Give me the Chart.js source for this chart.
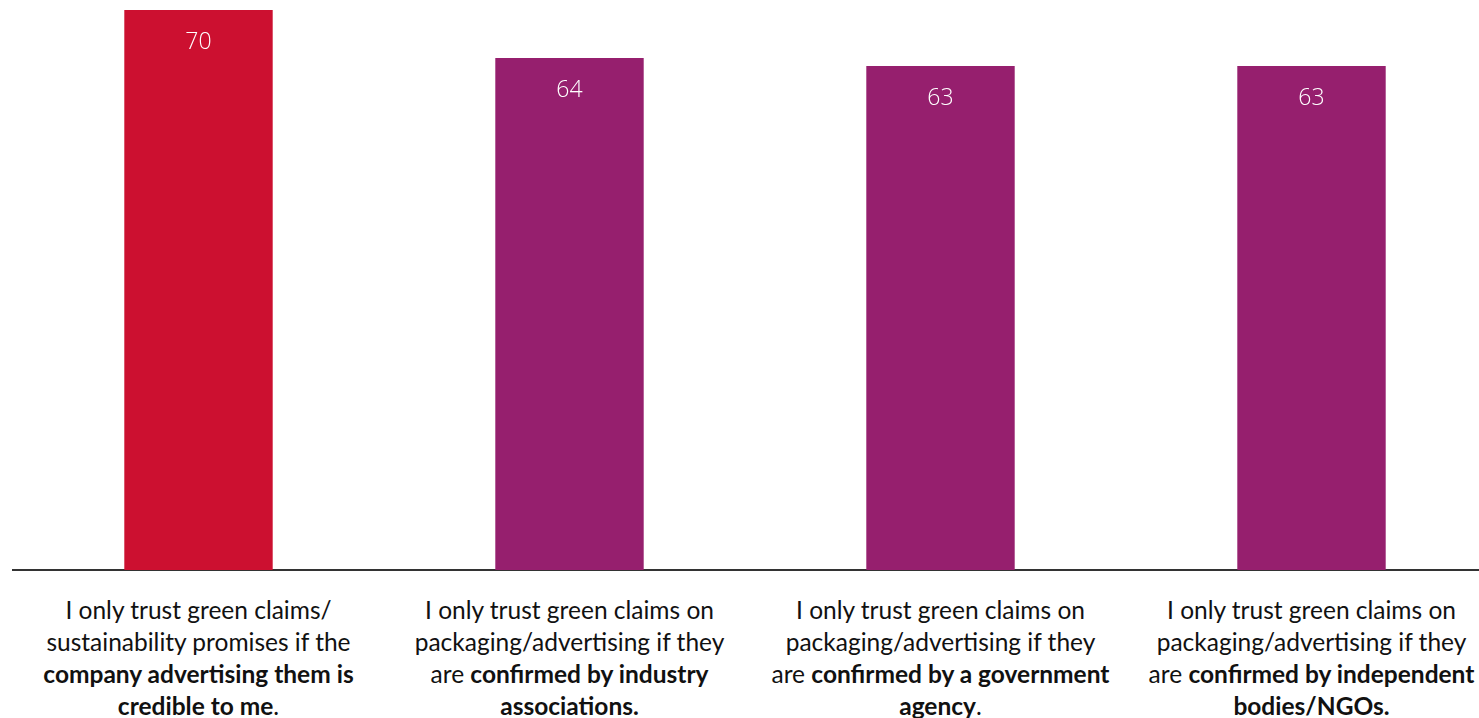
<!DOCTYPE html>
<html>
<head>
<meta charset="utf-8">
<title>Trust in green claims</title>
<script src="https://cdn.jsdelivr.net/npm/chart.js@4/dist/chart.umd.min.js"></script>
<style>
    html, body {
        margin: 0;
        padding: 0;
        background: #fff;
        overflow: hidden;
        width: 1479px;
        height: 718px;
    }
    .chart-wrap {
        position: relative;
        width: 1510px;
        height: 718px;
    }
    #trustChart {
        position: absolute;
        left: 0;
        top: 0;
    }
    .cat-label {
        position: absolute;
        top: 594px;
        width: 370px;
        margin-left: -185px;
        text-align: center;
        font-family: Lato, "Open Sans", sans-serif;
        font-size: 24.5px;
        line-height: 32px;
        color: #111;
        white-space: nowrap;
    }
    .cat-label b {
        font-weight: 700;
    }
</style>
</head>
<body>
<div class="chart-wrap">
    <canvas id="trustChart"></canvas>
    <div id="catLabels"></div>
</div>

<script>
/* ==========================================
   GREEN CLAIMS - TRUST BAR CHART
   ========================================== */

// Category captions, one entry per line; *...* marks the bold part
const categories = [
    ['I only trust green claims/', 'sustainability promises if the', '*company advertising them is*', '*credible to me*.'],
    ['I only trust green claims on', 'packaging/advertising if they', 'are *confirmed by industry*', '*associations.*'],
    ['I only trust green claims on', 'packaging/advertising if they', 'are *confirmed by a government*', '*agency*.'],
    ['I only trust green claims on', 'packaging/advertising if they', 'are *confirmed by independent*', '*bodies/NGOs.*']
];

// Share of respondents agreeing (%)
const values = [70, 64, 63, 63];

const barColors = ['#cc1030', '#961f6e', '#961f6e', '#961f6e'];

// Turn "*bold*" markers into <b> tags
function toHtml(line) {
    return line.replace(/\*([^*]+)\*/g, '<b>$1</b>');
}

// Build the caption blocks under the axis
function buildCategoryLabels() {
    const holder = document.getElementById('catLabels');
    categories.forEach(lines => {
        const el = document.createElement('div');
        el.className = 'cat-label';
        el.innerHTML = lines.map(toHtml).join('<br>');
        holder.appendChild(el);
    });
}

// Value inside the top of every bar
const barValuePlugin = {
    id: 'barValues',
    afterDatasetsDraw(chart) {
        const ctx = chart.ctx;
        const meta = chart.getDatasetMeta(0);
        ctx.save();
        ctx.fillStyle = '#ffffff';
        ctx.font = '300 23px "Open Sans", sans-serif';
        ctx.textAlign = 'center';
        ctx.textBaseline = 'middle';
        meta.data.forEach((bar, i) => {
            ctx.fillText(String(values[i]), bar.x, bar.y + 32);
        });
        ctx.restore();
    }
};

// Keep captions centred under each category
const captionPlugin = {
    id: 'captions',
    afterRender(chart) {
        const xScale = chart.scales.x;
        document.querySelectorAll('.cat-label').forEach((el, i) => {
            el.style.left = xScale.getPixelForValue(i) + 'px';
        });
    }
};

function initializeChart() {
    const canvas = document.getElementById('trustChart');
    canvas.width = 1510;
    canvas.height = 572;
    canvas.style.width = '1510px';
    canvas.style.height = '572px';

    new Chart(canvas.getContext('2d'), {
        type: 'bar',
        data: {
            labels: categories.map(lines => lines.join(' ').replace(/\*/g, '')),
            datasets: [{
                data: values,
                backgroundColor: barColors,
                borderWidth: 0,
                categoryPercentage: 0.8,
                barPercentage: 0.5
            }]
        },
        options: {
            responsive: false,
            animation: false,
            layout: {
                padding: { top: 10, left: 13, right: 13, bottom: 2 }
            },
            scales: {
                x: {
                    grid: { display: false, drawTicks: false },
                    ticks: { display: false },
                    border: { display: true, color: '#333333', width: 2 }
                },
                y: {
                    display: false,
                    min: 0,
                    max: 70
                }
            },
            plugins: {
                legend: { display: false },
                tooltip: { enabled: false }
            }
        },
        plugins: [barValuePlugin, captionPlugin]
    });
}

document.addEventListener('DOMContentLoaded', function() {
    buildCategoryLabels();
    initializeChart();
});
</script>
</body>
</html>
